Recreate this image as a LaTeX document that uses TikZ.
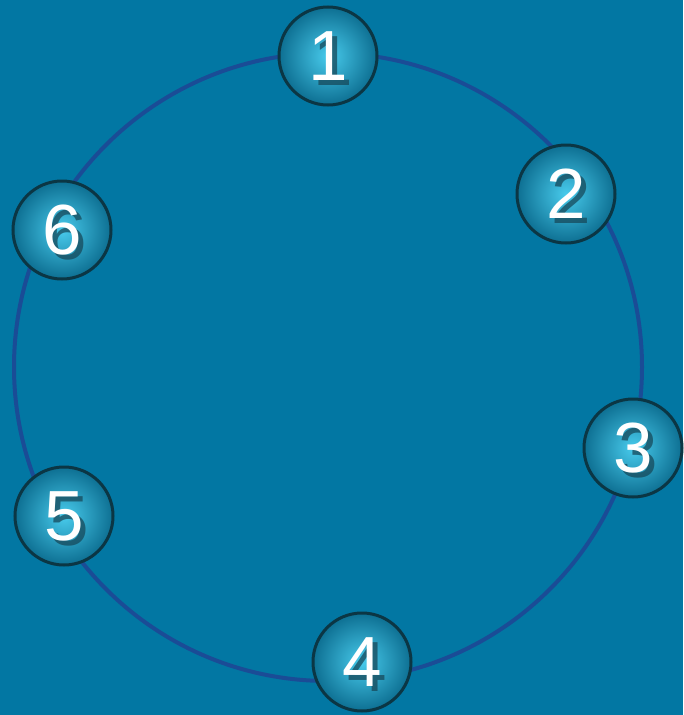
\documentclass[tikz,border=0pt]{standalone}
\usepackage{fontspec}
\setmainfont{Liberation Sans}
\definecolor{bg}{HTML}{0277A3}
\definecolor{ring}{HTML}{1A4C96}
\definecolor{ballin}{HTML}{48CBEC}
\definecolor{ballout}{HTML}{0D6F92}
\definecolor{balledge}{HTML}{0B3644}
\definecolor{shad}{HTML}{17495A}
\begin{document}
\begin{tikzpicture}[x=1pt,y=-1pt,
  ball/.style={circle, minimum size=98pt, inner sep=0pt, draw=balledge, line width=3pt, inner color=ballin, outer color=ballout},
  num/.style={text=white, inner sep=0pt, font=\fontsize{71}{71}\selectfont},
  numshadow/.style={text=shad, text opacity=0.75, inner sep=0pt, font=\fontsize{71}{71}\selectfont}]
\fill[bg] (0,0) rectangle (683,715);
\useasboundingbox (0,0) rectangle (683,715);
\coordinate (c) at (328,367);
\draw[ring, line width=4pt] (c) circle[radius=314];
\foreach \n/\x/\y in {1/328/56, 2/566/194, 3/633/448, 4/362/662, 5/64/516, 6/62/230}{
  \node[ball] (b\n) at (\x,\y) {};
  \node[numshadow] (s\n) at ([shift={(5pt,-5pt)}]b\n.center) {\n};
  \node[num] (t\n) at (b\n.center) {\n};
}
\end{tikzpicture}
\end{document}
